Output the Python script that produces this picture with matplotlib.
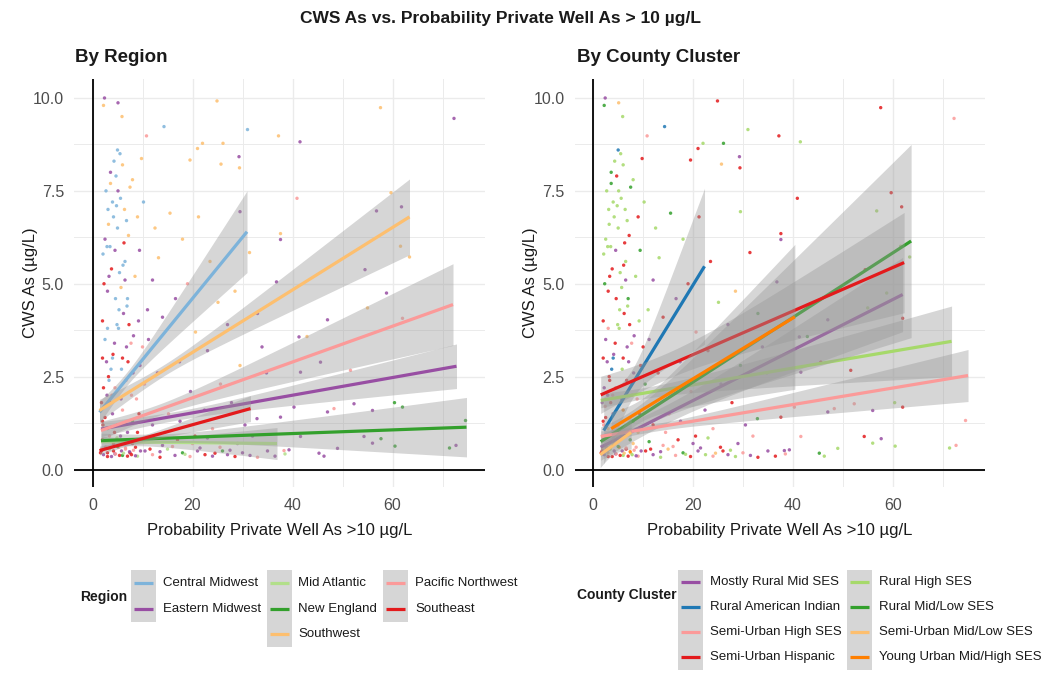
import numpy as np
import matplotlib
matplotlib.use("Agg")
import matplotlib.pyplot as plt
from matplotlib.patches import Rectangle
from matplotlib.ticker import MultipleLocator

plt.rcParams['font.family'] = ['Liberation Sans', 'DejaVu Sans']

# ---------------- data ----------------
regions = ["Central Midwest", "Eastern Midwest", "Mid Atlantic", "New England",
           "Pacific Northwest", "Southeast", "Southwest"]
region_colors = ["#7DB3DA", "#984EA3", "#B2DF8A", "#33A02C", "#FB9A99", "#E31A1C", "#FDBF6F"]

clusters = ["Mostly Rural Mid SES", "Rural American Indian", "Rural High SES",
            "Rural Mid/Low SES", "Semi-Urban High SES", "Semi-Urban Hispanic",
            "Semi-Urban Mid/Low SES", "Young Urban Mid/High SES"]
cluster_colors = ["#984EA3", "#1F78B4", "#A6D96A", "#33A02C", "#FB9A99", "#E31A1C",
                  "#FDBF6F", "#FF7F00"]

# points (shared x/y, coloured by region and by county cluster)
pt_x = [2.4, 2.2, 5.1, 5.9, 24.9, 57.6, 72.3, 31.0, 14.3, 10.8, 37.2, 41.5, 22.0, 26.1, 21.0,
        29.3, 29.4, 25.7, 19.5, 9.8, 40.9, 29.5, 56.8, 61.8, 59.7, 37.6, 37.6, 31.4, 61.6, 63.4,
        54.5, 36.8, 58.8, 55.0, 47.0, 62.0, 41.3, 42.9, 33.9, 45.6, 41.6, 51.6, 60.4, 62.0, 74.6,
        71.4, 72.7, 56.0, 54.3, 57.7, 60.5, 45.3, 46.3, 49.0, 52.3, 47.0, 48.3, 37.6, 32.9, 39.3,
        38.3, 40.3, 41.6, 56.0,
        15.5, 21.2, 18.0, 13.2, 23.5, 12.0, 19.0, 16.6, 25.1, 27.0, 14.0, 20.6, 11.2, 23.0, 17.4,
        29.5, 13.0, 25.6, 19.6, 10.4, 27.8, 22.4, 15.2, 30.5, 24.0, 12.0, 34.8, 28.5, 33.0,
        3.0, 4.5, 6.0, 7.5, 9.0, 10.5, 12.0, 13.5, 15.0, 16.5, 18.0, 19.5, 21.0, 22.5, 24.0,
        25.5, 27.0, 28.5, 30.0, 31.5, 33.0, 35.0, 36.5, 38.5, 5.2, 8.0, 11.2, 14.0, 17.0, 20.0,
        23.0, 26.0, 29.0, 32.0,
        2.0, 2.5, 3.0, 3.5, 4.0, 4.2, 4.8, 5.0, 5.5, 5.0, 6.0, 3.8, 4.5, 6.5, 7.2, 8.0, 2.8, 3.2,
        2.2, 4.0, 5.2, 6.2, 7.0, 8.5, 9.2, 3.5, 4.5, 5.8, 6.8, 7.8, 9.5, 2.5, 3.0, 4.0, 5.0, 6.0,
        7.0, 8.0, 9.0, 2.0, 2.6, 3.4, 4.2, 5.6, 6.6, 7.4, 8.6, 9.6, 2.3, 3.2, 2.7, 3.6, 4.6, 5.4,
        6.4, 7.5, 9.0, 8.2, 6.0, 3.0, 2.0, 1.8, 2.1, 1.6, 1.9, 10.0, 11.0, 12.5, 10.2, 9.4,
        1.8, 2.2, 2.6, 3.0, 3.4, 3.8, 4.2, 4.6, 5.0, 5.4, 5.8, 6.2, 6.6, 7.0, 7.4, 7.8, 8.2, 8.6,
        2.0, 2.4, 2.9, 3.3, 3.7, 4.1, 4.4, 4.9, 5.3, 5.7, 6.1, 6.5, 6.9, 7.3, 7.7, 8.1, 8.8, 9.3,
        2.1, 2.5, 3.1, 3.6, 4.3, 4.7, 5.1, 5.6, 6.3, 6.8,
        3.9, 4.4, 4.9, 5.7, 6.7, 7.1, 2.9, 3.3,
        11.5, 13.5, 16.0, 18.5, 21.5, 24.5, 27.5, 14.5, 17.5, 20.5]
pt_y = [10.0, 9.8, 9.87, 9.5, 9.92, 9.74, 9.45, 9.15, 9.23, 8.98, 8.98, 8.82, 8.78, 8.78, 8.64,
        8.42, 8.12, 8.22, 8.33, 8.37, 7.3, 6.94, 6.96, 7.07, 7.45, 6.35, 6.19, 5.84, 6.01, 5.72,
        5.38, 5.05, 4.75, 4.35, 4.03, 4.07, 3.57, 3.58, 3.3, 2.89, 2.62, 2.67, 1.80, 1.68, 1.32,
        0.58, 0.65, 0.71, 0.89, 0.83, 0.63, 0.44, 0.36, 0.57, 1.77, 1.55, 1.64, 1.41, 1.37, 0.53,
        0.51, 1.68, 0.89, 1.59,
        6.9, 6.8, 6.2, 5.7, 5.6, 5.1, 5.0, 4.6, 4.5, 3.9, 4.1, 3.7, 3.5, 3.2, 2.9,
        2.8, 2.6, 2.3, 2.1, 2.3, 1.8, 1.6, 1.5, 1.2, 1.1, 1.2, 2.6, 4.8, 4.2,
        0.35, 0.42, 0.38, 0.45, 0.36, 0.5, 0.4, 0.33, 0.55, 0.38, 0.45, 0.35, 0.5, 0.4, 0.36,
        0.6, 0.4, 0.35, 0.45, 0.38, 0.33, 0.5, 0.36, 0.42, 0.6, 0.7, 0.75, 0.65, 0.8, 0.7,
        0.85, 0.5, 0.7, 0.9,
        4.0, 3.5, 4.8, 6.0, 7.2, 6.8, 7.1, 6.5, 8.5, 8.6, 8.2, 5.4, 5.9, 5.6, 6.3, 7.8, 2.9, 2.5,
        2.2, 3.0, 3.8, 4.2, 4.6, 5.2, 4.0, 1.8, 2.2, 2.7, 3.3, 2.0, 2.8, 1.4, 1.1, 1.5, 1.2, 1.6,
        1.0, 1.3, 1.0, 0.8, 0.6, 0.9, 0.7, 0.9, 0.55, 0.8, 0.6, 0.5, 5.0, 6.6, 7.5, 8.0, 4.6, 5.3,
        7.0, 7.6, 6.8, 3.6, 3.0, 3.8, 3.0, 1.8, 1.2, 0.45, 0.55, 3.3, 4.3, 6.5, 7.2, 5.9,
        0.5, 0.4, 0.6, 0.45, 0.55, 0.35, 0.5, 0.42, 0.62, 0.38, 0.5, 0.44, 0.58, 0.36, 0.48, 0.4, 0.52, 0.37,
        1.3, 1.7, 2.0, 2.4, 2.7, 3.1, 3.4, 3.9, 4.3, 4.9, 5.5, 5.1, 4.4, 3.9, 3.4, 2.6, 1.9, 1.5,
        5.8, 6.2, 7.0, 7.7, 8.3, 7.9, 7.5, 7.3, 6.1, 6.7,
        2.0, 1.0, 0.85, 1.9, 2.4, 2.9, 6.0, 5.2,
        0.55, 0.48, 0.62, 0.41, 0.58, 0.44, 0.52, 1.0, 1.3, 0.9]
pt_region = [1, 6, 1, 6, 6, 6, 1, 0, 0, 4, 6, 1, 6, 6, 6, 1, 6, 6, 6, 6, 4, 1, 1, 1, 6, 6, 1, 6, 6, 6,
             1, 1, 1, 6, 1, 4, 1, 6, 1, 1, 1, 4, 3, 3, 3, 3, 1, 1, 1, 3, 3, 1, 1, 1, 1, 1, 4, 1, 1, 1,
             4, 1, 1, 1,
             6, 6, 6, 6, 6, 1, 4, 1, 6, 1, 1, 6, 1, 1, 1, 6, 1, 4, 1, 4, 1, 1, 4, 1, 4, 1, 1, 6, 1,
             5, 1, 3, 5, 2, 1, 4, 5, 2, 1, 3, 4, 1, 5, 1, 4, 1, 5, 1, 1, 4, 1, 1, 2, 4, 5, 2, 1, 5, 4,
             1, 3, 1, 1,
             5, 0, 1, 0, 0, 0, 0, 0, 0, 0, 6, 5, 1, 0, 6, 6, 1, 5, 5, 0, 0, 1, 0, 6, 1, 5, 4, 0, 1, 4,
             1, 5, 2, 1, 5, 4, 1, 3, 5, 5, 2, 4, 5, 1, 4, 2, 5, 1, 5, 6, 0, 1, 0, 0, 6, 6, 6, 1, 5, 0,
             5, 5, 5, 5, 4, 4, 1, 6, 0, 1,
             5, 1, 4, 5, 2, 1, 5, 4, 3, 5, 1, 2, 4, 5, 1, 5, 4, 1,
             5, 4, 1, 0, 0, 5, 1, 0, 0, 6, 0, 1, 0, 5, 4, 1, 4, 5,
             0, 1, 0, 6, 0, 0, 1, 0, 5, 0,
             4, 5, 2, 1, 4, 5, 0, 1,
             5, 1, 4, 2, 1, 5, 1, 4, 1, 5]
pt_cluster = [0, 3, 6, 2, 5, 5, 4, 2, 1, 4, 5, 2, 2, 3, 5, 0, 5, 6, 5, 5, 5, 2, 2, 5, 5, 5, 0, 5, 2, 2,
              5, 0, 2, 2, 0, 5, 0, 3, 0, 5, 0, 5, 2, 5, 4, 2, 4, 2, 5, 0, 2, 3, 2, 2, 4, 0, 4, 5, 3, 0,
              0, 4, 4, 0,
              3, 5, 2, 2, 5, 0, 5, 0, 2, 0, 5, 4, 0, 5, 0, 3, 5, 0, 4, 3, 5, 0, 4, 0, 4, 5, 2, 6, 3,
              5, 0, 2, 6, 4, 5, 0, 2, 6, 4, 3, 5, 0, 2, 4, 5, 0, 2, 4, 0, 5, 0, 5, 4, 7, 6, 3, 4, 5, 0,
              2, 5, 0, 4,
              5, 0, 5, 2, 2, 2, 2, 2, 2, 1, 2, 5, 0, 2, 5, 2, 0, 5, 0, 1, 2, 5, 3, 2, 2, 5, 4, 2, 0, 4,
              5, 5, 6, 0, 4, 7, 5, 3, 6, 5, 7, 4, 6, 0, 5, 3, 4, 0, 3, 2, 2, 3, 5, 2, 2, 3, 5, 0, 5, 4,
              5, 0, 4, 5, 6, 5, 2, 2, 2, 3,
              5, 0, 4, 6, 2, 5, 0, 4, 3, 5, 0, 6, 4, 5, 7, 2, 4, 0,
              5, 4, 0, 5, 1, 0, 5, 2, 2, 2, 5, 0, 2, 5, 4, 0, 4, 5,
              2, 2, 2, 3, 2, 5, 2, 2, 5, 2,
              4, 7, 6, 0, 5, 0, 2, 5,
              5, 0, 4, 2, 0, 6, 2, 4, 0, 5]

# fitted lines (start/end) and CI half-widths (start, narrowest, end)
reg_x0 = [1.4, 1.7, 1.7, 1.7, 1.7, 1.4, 1.4]
reg_x1 = [30.9, 72.8, 36.9, 74.8, 72.1, 31.6, 63.4]
reg_y0 = [1.54, 1.09, 0.75, 0.78, 1.05, 0.51, 1.59]
reg_y1 = [6.40, 2.78, 0.70, 1.14, 4.44, 1.64, 6.80]
reg_h0 = [0.30, 0.20, 0.15, 0.20, 0.25, 0.12, 0.30]
reg_hm = [0.18, 0.12, 0.10, 0.12, 0.15, 0.08, 0.15]
reg_h1 = [1.10, 0.60, 0.43, 0.80, 1.10, 0.35, 1.02]

cl_x0 = [1.5, 2.1, 1.5, 1.5, 1.5, 1.5, 1.4, 3.6]
cl_x1 = [62.0, 22.3, 71.8, 63.7, 75.1, 62.3, 7.6, 40.4]
cl_y0 = [0.60, 1.05, 1.86, 0.75, 0.89, 2.01, 0.40, 1.10]
cl_y1 = [4.71, 5.47, 3.45, 6.15, 2.53, 5.57, 1.00, 4.11]
cl_h0 = [0.35, 0.90, 0.20, 0.40, 0.15, 0.50, 0.35, 0.45]
cl_hm = [0.25, 0.40, 0.15, 0.30, 0.10, 0.35, 0.25, 0.30]
cl_h1 = [1.00, 2.10, 0.95, 2.60, 0.70, 1.35, 0.45, 1.95]

x_ticks = [0, 20, 40, 60]
y_ticks = [0, 2.5, 5, 7.5, 10]
y_tick_labels = ["0.0", "2.5", "5.0", "7.5", "10.0"]


def half_width(xs, x0, x1, h0, hm, h1):
    r0 = np.sqrt(max(h0 ** 2 - hm ** 2, 1e-9))
    r1 = np.sqrt(max(h1 ** 2 - hm ** 2, 1e-9))
    xm = (x0 * r1 + x1 * r0) / (r0 + r1)
    b = r1 / (x1 - xm)
    return np.sqrt(hm ** 2 + (b * (xs - xm)) ** 2)


W, H = 1050, 679
fig = plt.figure(figsize=(W / 100, H / 100), dpi=100)


def px_axes(left, top, right, bottom):
    return fig.add_axes([left / W, 1 - bottom / H, (right - left) / W, (bottom - top) / H])


def draw_panel(ax, codes, colors, x0s, x1s, y0s, y1s, h0s, hms, h1s):
    ax.set_xlim(-3.75, 78.5)
    ax.set_ylim(-0.47, 10.5)
    ax.set_xticks(x_ticks)
    ax.set_yticks(y_ticks)
    ax.set_yticklabels(y_tick_labels)
    ax.xaxis.set_minor_locator(MultipleLocator(10))
    ax.yaxis.set_minor_locator(MultipleLocator(1.25))
    ax.grid(which='major', color='#EBEBEB', lw=1.0, zorder=0)
    ax.grid(which='minor', color='#EBEBEB', lw=0.7, zorder=0)
    ax.set_axisbelow(True)
    ax.tick_params(which='both', length=0, colors='#4D4D4D', labelsize=11.5)
    ax.tick_params(axis='x', pad=8)
    ax.tick_params(axis='y', pad=7)
    for s in ax.spines.values():
        s.set_visible(False)
    ax.axhline(0, color='black', lw=1.3, zorder=1)
    ax.axvline(0, color='black', lw=1.3, zorder=1)
    ax.scatter(pt_x, pt_y, s=6, c=[colors[k] for k in codes], alpha=0.85,
               linewidths=0, zorder=2)
    for i in range(len(x0s)):
        xs = np.linspace(x0s[i], x1s[i], 200)
        ys = y0s[i] + (y1s[i] - y0s[i]) * (xs - x0s[i]) / (x1s[i] - x0s[i])
        hw = half_width(xs, x0s[i], x1s[i], h0s[i], hms[i], h1s[i])
        ax.fill_between(xs, ys - hw, ys + hw, color='#999999', alpha=0.4, lw=0,
                        zorder=3 + 2 * i)
        ax.plot(xs, ys, color=colors[i], lw=2.3, zorder=4 + 2 * i,
                solid_capstyle='butt')


ax1 = px_axes(73.75, 79.4, 485, 487)
draw_panel(ax1, pt_region, region_colors, reg_x0, reg_x1, reg_y0, reg_y1,
           reg_h0, reg_hm, reg_h1)
ax2 = px_axes(574.5, 79.4, 985, 487)
draw_panel(ax2, pt_cluster, cluster_colors, cl_x0, cl_x1, cl_y0, cl_y1,
           cl_h0, cl_hm, cl_h1)

# ---------------- texts & legends ----------------
ov = fig.add_axes([0, 0, 1, 1], zorder=-1)
ov.set_xlim(0, W)
ov.set_ylim(H, 0)
ov.axis('off')

ov.text(500, 18, "CWS As vs. Probability Private Well As > 10 µg/L", ha='center',
        va='center', fontsize=12.5, fontweight='bold', color='#1A1A1A')
ov.text(75, 57, "By Region", ha='left', va='center', fontsize=13.5, fontweight='bold',
        color='#1A1A1A')
ov.text(577, 57, "By County Cluster", ha='left', va='center', fontsize=13.5,
        fontweight='bold', color='#1A1A1A')
for xc in (30, 530):
    ov.text(xc, 283, "CWS As (µg/L)", ha='center', va='center', rotation=90,
            fontsize=12, color='#1A1A1A')
for xc in (280, 780):
    ov.text(xc, 530, "Probability Private Well As >10 µg/L", ha='center', va='center',
            fontsize=12, color='#1A1A1A')

key_fill = '#D6D6D6'


def draw_legend(title, tx, ty, names, colors, columns, col_keys, col_text, row_y, key_h):
    ov.text(tx, ty, title, ha='left', va='center', fontsize=10, fontweight='bold',
            color='#1A1A1A')
    for c, items in enumerate(columns):
        kx = col_keys[c]
        for r, idx in enumerate(items):
            yc = row_y[r]
            ov.add_patch(Rectangle((kx, yc - key_h / 2), 25, key_h, facecolor=key_fill,
                                   edgecolor='none'))
            ov.plot([kx + 3, kx + 22], [yc, yc], color=colors[idx], lw=2.3,
                    solid_capstyle='butt')
            ov.text(col_text[c], yc, names[idx], ha='left', va='center', fontsize=9.5,
                    color='#1A1A1A')


draw_legend("Region", 80, 597, regions, region_colors,
            [[0, 1], [2, 3, 6], [4, 5]], [131, 267, 383], [163, 298, 415],
            [583, 609, 634], 26)
draw_legend("County Cluster", 577, 595, clusters, cluster_colors,
            [[0, 1, 4, 5], [2, 3, 6, 7]], [678, 847], [710, 879],
            [582, 607, 632, 657], 25)

fig.savefig("out.png", dpi=100)
